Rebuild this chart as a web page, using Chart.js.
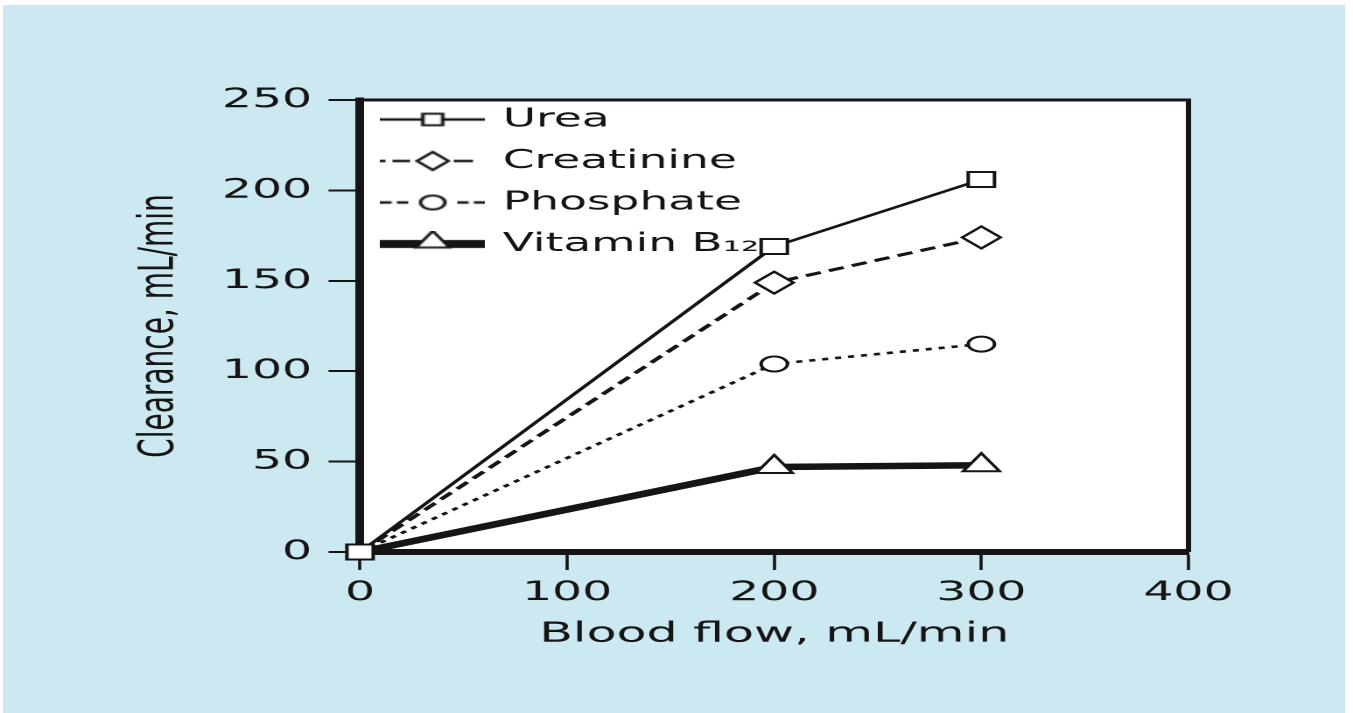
<!DOCTYPE html>
<html>
<head>
<meta charset="utf-8">
<script src="https://cdn.jsdelivr.net/npm/chart.js@4.4.1/dist/chart.umd.min.js"></script>
<style>
  html, body { margin: 0; padding: 0; background: #fff; }
  body { width: 1353px; height: 713px; position: relative; overflow: hidden; }
  #bg { position: absolute; left: 3px; top: 5px; width: 1342px; height: 708px; background: #cce9f1; }
  /* the source figure is stretched sideways, so the chart is drawn narrow and widened */
  #wrap { position: absolute; left: 0; top: 0; width: 773px; height: 713px; transform: scaleX(1.7503); transform-origin: 0 0; }
</style>
</head>
<body>
<div id="bg"></div>
<div id="wrap"><canvas id="chart"></canvas></div>
<script>
// ─── data ────────────────────────────────────────────────────────────────
const flowTicks      = [0, 100, 200, 300, 400];
const clearanceTicks = [0, 50, 100, 150, 200, 250];
const bloodFlow      = [0, 200, 300];
const urea           = [0, 169, 206];
const creatinine     = [0, 149, 174];
const phosphate      = [0, 104, 115];
const vitaminB12     = [0, 47, 48];
const seriesNames    = ['Urea', 'Creatinine', 'Phosphate', 'Vitamin B₁₂'];

const INK = '#151515';
Chart.defaults.font.family = "'DejaVu Sans', sans-serif";

const toPoints = ys => bloodFlow.map((x, i) => ({ x, y: ys[i] }));
// origin is covered by the urea square only
const hideFirst = r => bloodFlow.map((_, i) => i === 0 ? 0 : r);

// ─── legend samples: line piece + marker ────────────────────────────────
function legendSample(segs, width, marker) {
  const c = document.createElement('canvas');
  c.width = 60; c.height = 26;
  const g = c.getContext('2d');
  g.strokeStyle = INK;
  g.lineCap = 'butt';
  for (const [a, b] of segs) {
    g.lineWidth = width;
    g.beginPath(); g.moveTo(a, 13); g.lineTo(b, 13); g.stroke();
  }
  g.fillStyle = '#fff';
  g.lineWidth = 2;
  Chart.helpers.drawPoint(g, { pointStyle: marker.style, radius: marker.r, rotation: 0, borderWidth: 2 }, 30, marker.y || 13);
  return c;
}

const samples = [
  legendSample([[0, 60]], 2.5, { style: 'rect', r: 8 }),
  legendSample([[0, 3], [7, 17], [42, 53]], 2.5, { style: 'rectRot', r: 9 }),
  legendSample([[0, 6.5], [9.5, 16], [44, 50.5], [53.5, 60]], 2.5, { style: 'circle', r: 7 }),
  legendSample([[0, 60]], 8, { style: 'triangle', r: 11, y: 11 }),
];

// ─── plugins ────────────────────────────────────────────────────────────
const plotFrame = {
  id: 'plotFrame',
  beforeDraw(chart) {
    const { ctx, chartArea: a } = chart;
    ctx.save();
    ctx.fillStyle = '#fff';
    ctx.fillRect(a.left, a.top, a.right - a.left, a.bottom - a.top);
    ctx.restore();
  },
  beforeDatasetsDraw(chart) {
    const { ctx, chartArea: a } = chart;
    ctx.save();
    ctx.strokeStyle = INK;
    ctx.lineWidth = 3;
    ctx.beginPath();
    ctx.moveTo(a.left, a.top); ctx.lineTo(a.right, a.top); ctx.lineTo(a.right, a.bottom);
    ctx.stroke();
    ctx.restore();
  },
};

// put the legend box in the top-left corner of the plot
const legendPlace = {
  id: 'legendPlace',
  afterLayout(chart) {
    const l = chart.legend, a = chart.chartArea;
    if (!l) return;
    l.left = a.left - 1;
    l.top = a.top - 9;
    l.right = a.right;
    l.bottom = a.bottom;
  },
};

// ─── chart ──────────────────────────────────────────────────────────────
const baseSet = {
  borderColor: INK,
  pointBackgroundColor: '#fff',
  pointBorderColor: INK,
  pointBorderWidth: 2,
  pointHoverRadius: 0,
  tension: 0,
  clip: false,
};

new Chart(document.getElementById('chart'), {
  type: 'line',
  data: {
    datasets: [
      { ...baseSet, label: seriesNames[0], data: toPoints(urea), borderWidth: 2.5,
        pointStyle: 'rect', pointRadius: 10.6 },
      { ...baseSet, label: seriesNames[1], data: toPoints(creatinine), borderWidth: 3,
        borderDash: [9, 5], pointStyle: 'rectRot', pointRadius: hideFirst(11) },
      { ...baseSet, label: seriesNames[2], data: toPoints(phosphate), borderWidth: 2.6,
        borderDash: [3.5, 4], pointStyle: 'circle', pointRadius: hideFirst(7.5) },
      { ...baseSet, label: seriesNames[3], data: toPoints(vitaminB12), borderWidth: 6.5,
        pointStyle: 'triangle', pointRadius: hideFirst(12) },
    ],
  },
  options: {
    responsive: true,
    maintainAspectRatio: false,
    devicePixelRatio: 2,
    animation: false,
    events: [],
    layout: { padding: { left: 0, right: 94, top: 100, bottom: 0 } },
    plugins: {
      tooltip: { enabled: false },
      legend: {
        position: 'chartArea',
        align: 'start',
        labels: {
          usePointStyle: true,
          pointStyleWidth: 54,
          padding: 15.5,
          color: INK,
          font: { size: 26 },
          generateLabels: chart => chart.data.datasets.map((ds, i) => ({
            text: ds.label,
            pointStyle: samples[i],
            datasetIndex: i,
            hidden: false,
            lineWidth: 0,
            fillStyle: '#fff',
            strokeStyle: INK,
            fontColor: INK,
          })),
        },
      },
    },
    scales: {
      x: {
        type: 'linear',
        min: 0, max: 400,
        afterBuildTicks: s => { s.ticks = flowTicks.map(v => ({ value: v })); },
        afterFit: s => { s.height = 161; },
        ticks: { padding: 6.8, color: INK, font: { size: 27 } },
        grid: { drawOnChartArea: false, drawTicks: true, tickLength: 18, tickWidth: 1.8, tickColor: INK, color: INK },
        border: { display: true, width: 6, color: INK },
        title: { display: true, text: 'Blood flow, mL/min', color: INK, font: { size: 28 },
                 padding: { top: 0, bottom: 62.2 } },
      },
      y: {
        type: 'linear',
        min: 0, max: 250,
        afterBuildTicks: s => { s.ticks = clearanceTicks.map(v => ({ value: v })); },
        afterFit: s => { s.width = 205.7; },
        ticks: { padding: 9.4, color: INK, font: { size: 27 } },
        grid: { drawOnChartArea: false, drawTicks: true, tickLength: 18, tickWidth: 2, tickColor: INK, color: INK },
        border: { display: true, width: 5, color: INK },
        title: { display: true, text: 'Clearance, mL/min', color: INK, font: { size: 28 },
                 padding: { top: 74.6, bottom: 0 } },
      },
    },
  },
  plugins: [plotFrame, legendPlace],
});
</script>
</body>
</html>
